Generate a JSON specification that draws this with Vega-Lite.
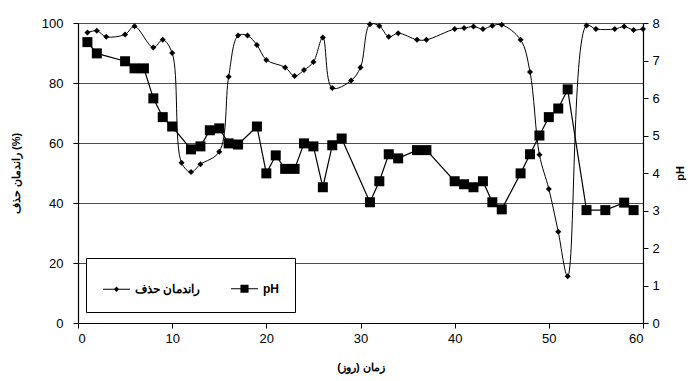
{
  "$schema": "https://vega.github.io/schema/vega-lite/v6.json",
  "width": 565,
  "height": 300,
  "autosize": "none",
  "padding": {"left": 78, "top": 23, "right": 45, "bottom": 58},
  "background": "white",
  "config": {
    "view": {"stroke": null},
    "font": "Liberation Sans",
    "axis": {
      "domainColor": "black",
      "tickColor": "black",
      "labelColor": "black",
      "titleColor": "black",
      "labelFont": "Liberation Sans",
      "labelFontSize": 13,
      "titleFont": "Liberation Sans",
      "titleFontSize": 11,
      "titleFontWeight": "bold",
      "tickSize": 5,
      "domainWidth": 1.2,
      "tickWidth": 1
    }
  },
  "datasets": {
    "removal": [
      {"day": 1, "v": 96.8, "series": "راندمان حذف"},
      {"day": 2, "v": 97.4, "series": "راندمان حذف"},
      {"day": 3, "v": 95.4, "series": "راندمان حذف"},
      {"day": 5, "v": 96.2, "series": "راندمان حذف"},
      {"day": 6, "v": 98.9, "series": "راندمان حذف"},
      {"day": 8, "v": 91.8, "series": "راندمان حذف"},
      {"day": 9, "v": 94.4, "series": "راندمان حذف"},
      {"day": 10, "v": 90.0, "series": "راندمان حذف"},
      {"day": 11, "v": 53.4, "series": "راندمان حذف"},
      {"day": 12, "v": 50.3, "series": "راندمان حذف"},
      {"day": 13, "v": 52.9, "series": "راندمان حذف"},
      {"day": 15, "v": 57.1, "series": "راندمان حذف"},
      {"day": 16, "v": 82.1, "series": "راندمان حذف"},
      {"day": 17, "v": 95.8, "series": "راندمان حذف"},
      {"day": 18, "v": 95.8, "series": "راندمان حذف"},
      {"day": 19, "v": 92.7, "series": "راندمان حذف"},
      {"day": 20, "v": 87.7, "series": "راندمان حذف"},
      {"day": 22, "v": 85.2, "series": "راندمان حذف"},
      {"day": 23, "v": 82.3, "series": "راندمان حذف"},
      {"day": 24, "v": 84.3, "series": "راندمان حذف"},
      {"day": 25, "v": 87.0, "series": "راندمان حذف"},
      {"day": 26, "v": 95.2, "series": "راندمان حذف"},
      {"day": 27, "v": 78.3, "series": "راندمان حذف"},
      {"day": 29, "v": 80.8, "series": "راندمان حذف"},
      {"day": 30, "v": 85.2, "series": "راندمان حذف"},
      {"day": 31, "v": 99.6, "series": "راندمان حذف"},
      {"day": 32, "v": 99.0, "series": "راندمان حذف"},
      {"day": 33, "v": 95.4, "series": "راندمان حذف"},
      {"day": 34, "v": 96.6, "series": "راندمان حذف"},
      {"day": 36, "v": 94.4, "series": "راندمان حذف"},
      {"day": 37, "v": 94.4, "series": "راندمان حذف"},
      {"day": 40, "v": 98.0, "series": "راندمان حذف"},
      {"day": 41, "v": 98.3, "series": "راندمان حذف"},
      {"day": 42, "v": 98.8, "series": "راندمان حذف"},
      {"day": 43, "v": 98.0, "series": "راندمان حذف"},
      {"day": 44, "v": 99.1, "series": "راندمان حذف"},
      {"day": 45, "v": 99.4, "series": "راندمان حذف"},
      {"day": 47, "v": 94.4, "series": "راندمان حذف"},
      {"day": 48, "v": 83.7, "series": "راندمان حذف"},
      {"day": 49, "v": 56.1, "series": "راندمان حذف"},
      {"day": 50, "v": 44.7, "series": "راندمان حذف"},
      {"day": 51, "v": 30.4, "series": "راندمان حذف"},
      {"day": 52, "v": 15.6, "series": "راندمان حذف"},
      {"day": 54, "v": 99.2, "series": "راندمان حذف"},
      {"day": 55, "v": 98.0, "series": "راندمان حذف"},
      {"day": 57, "v": 98.0, "series": "راندمان حذف"},
      {"day": 58, "v": 98.8, "series": "راندمان حذف"},
      {"day": 59, "v": 97.7, "series": "راندمان حذف"},
      {"day": 60, "v": 98.0, "series": "راندمان حذف"}
    ],
    "ph": [
      {"day": 1, "v": 7.49, "series": "pH"},
      {"day": 2, "v": 7.19, "series": "pH"},
      {"day": 5, "v": 6.98, "series": "pH"},
      {"day": 6, "v": 6.79, "series": "pH"},
      {"day": 7, "v": 6.79, "series": "pH"},
      {"day": 8, "v": 5.99, "series": "pH"},
      {"day": 9, "v": 5.49, "series": "pH"},
      {"day": 10, "v": 5.24, "series": "pH"},
      {"day": 12, "v": 4.63, "series": "pH"},
      {"day": 13, "v": 4.71, "series": "pH"},
      {"day": 14, "v": 5.14, "series": "pH"},
      {"day": 15, "v": 5.19, "series": "pH"},
      {"day": 16, "v": 4.79, "series": "pH"},
      {"day": 17, "v": 4.76, "series": "pH"},
      {"day": 19, "v": 5.24, "series": "pH"},
      {"day": 20, "v": 3.99, "series": "pH"},
      {"day": 21, "v": 4.47, "series": "pH"},
      {"day": 22, "v": 4.11, "series": "pH"},
      {"day": 23, "v": 4.11, "series": "pH"},
      {"day": 24, "v": 4.79, "series": "pH"},
      {"day": 25, "v": 4.71, "series": "pH"},
      {"day": 26, "v": 3.62, "series": "pH"},
      {"day": 27, "v": 4.74, "series": "pH"},
      {"day": 28, "v": 4.92, "series": "pH"},
      {"day": 31, "v": 3.22, "series": "pH"},
      {"day": 32, "v": 3.78, "series": "pH"},
      {"day": 33, "v": 4.5, "series": "pH"},
      {"day": 34, "v": 4.39, "series": "pH"},
      {"day": 36, "v": 4.61, "series": "pH"},
      {"day": 37, "v": 4.61, "series": "pH"},
      {"day": 40, "v": 3.78, "series": "pH"},
      {"day": 41, "v": 3.7, "series": "pH"},
      {"day": 42, "v": 3.62, "series": "pH"},
      {"day": 43, "v": 3.78, "series": "pH"},
      {"day": 44, "v": 3.22, "series": "pH"},
      {"day": 45, "v": 3.03, "series": "pH"},
      {"day": 47, "v": 3.99, "series": "pH"},
      {"day": 48, "v": 4.5, "series": "pH"},
      {"day": 49, "v": 5.0, "series": "pH"},
      {"day": 50, "v": 5.49, "series": "pH"},
      {"day": 51, "v": 5.72, "series": "pH"},
      {"day": 52, "v": 6.23, "series": "pH"},
      {"day": 54, "v": 3.01, "series": "pH"},
      {"day": 56, "v": 3.01, "series": "pH"},
      {"day": 58, "v": 3.21, "series": "pH"},
      {"day": 59, "v": 3.01, "series": "pH"}
    ]
  },
  "encoding": {
    "x": {
      "field": "day",
      "type": "quantitative",
      "scale": {"domain": [0, 60], "nice": false},
      "axis": {"values": [0, 10, 20, 30, 40, 50, 60], "grid": false, "title": "زمان (روز)", "titlePadding": 16, "labelPadding": 4}
    }
  },
  "layer": [
    {
      "data": {"name": "removal"},
      "encoding": {
        "y": {
          "field": "v",
          "type": "quantitative",
          "scale": {"domain": [0, 100], "nice": false},
          "axis": {"orient": "left", "values": [0, 20, 40, 60, 80, 100], "grid": true, "gridColor": "#4d4d4d", "gridWidth": 1, "title": "راندمان حذف (%)", "titlePadding": 20, "labelPadding": 10}
        }
      },
      "layer": [
        {"mark": {"type": "line", "interpolate": "catmull-rom", "color": "black", "strokeWidth": 1}},
        {"mark": {"type": "point", "shape": "diamond", "filled": true, "color": "black", "size": 36, "opacity": 1}},
        {
          "transform": [{"filter": "datum.day < 0"}],
          "mark": {"type": "point", "filled": true, "color": "black", "opacity": 1},
          "encoding": {
            "shape": {
              "field": "series",
              "type": "nominal",
              "scale": {"domain": ["راندمان حذف", "pH"], "range": ["M-1,-0.04L1,-0.04L1,0.04L-1,0.04ZM0,-0.2L0.2,0L0,0.2L-0.2,0Z", "M-1,-0.04L1,-0.04L1,0.04L-1,0.04ZM-0.3,-0.3L0.3,-0.3L0.3,0.3L-0.3,0.3Z"]},
              "legend": {
                "title": null,
                "orient": "none",
                "legendX": 8,
                "legendY": 235,
                "direction": "horizontal",
                "fillColor": "white",
                "strokeColor": "black",
                "padding": 16,
                "columnPadding": 27,
                "symbolSize": 729,
                "symbolFillColor": "black",
                "labelFont": "Liberation Sans",
                "labelFontSize": 12,
                "labelFontWeight": "bold",
                "labelColor": "black",
                "labelOffset": 4
              }
            }
          }
        }
      ]
    },
    {
      "data": {"name": "ph"},
      "encoding": {
        "y": {
          "field": "v",
          "type": "quantitative",
          "scale": {"domain": [0, 8], "nice": false},
          "axis": {"orient": "right", "values": [0, 1, 2, 3, 4, 5, 6, 7, 8], "grid": false, "title": "pH", "titleAngle": 270, "titlePadding": 26, "labelPadding": 4}
        }
      },
      "layer": [
        {"mark": {"type": "line", "color": "black", "strokeWidth": 1.2}},
        {"mark": {"type": "point", "shape": "square", "filled": true, "color": "black", "size": 100, "opacity": 1}}
      ]
    }
  ],
  "resolve": {"scale": {"y": "independent"}}
}
